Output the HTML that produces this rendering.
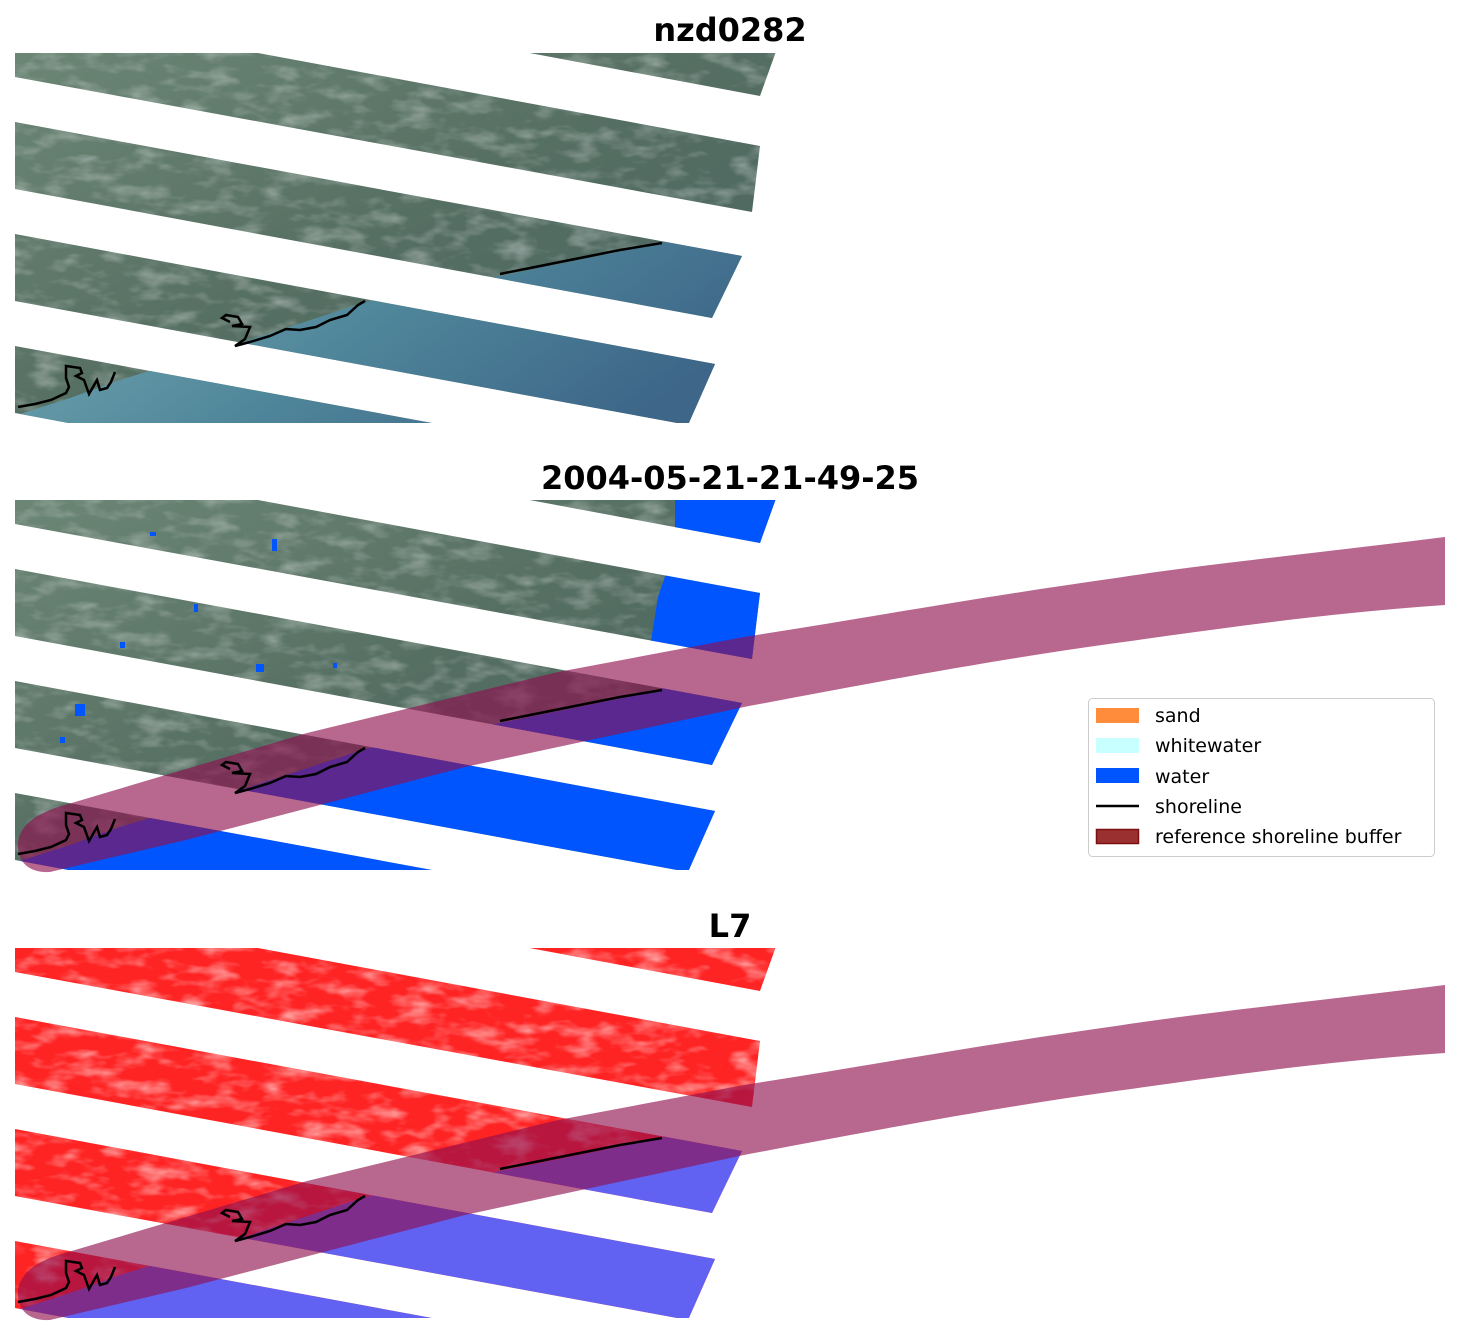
<!DOCTYPE html>
<html><head><meta charset="utf-8"><style>
html,body{margin:0;padding:0;background:#fff;}
svg{display:block;}
text{font-family:"DejaVu Sans","Liberation Sans",sans-serif;}
</style></head><body>
<svg width="1459" height="1337" viewBox="0 0 1459 1337" xmlns="http://www.w3.org/2000/svg">
<defs>
  <clipPath id="strips">
    <polygon points="15,-110 783,32 760,96 15,-43"/>
    <polygon points="15,8 760,146 752,212 15,77"/>
    <polygon points="15,122 742,256 712,318 15,189"/>
    <polygon points="15,234 715,364 688,425 15,301"/>
    <polygon points="15,346 800,491 800,560 15,413"/>
  </clipPath>
  <clipPath id="frame"><rect x="15" y="53" width="770" height="370"/></clipPath>
  <linearGradient id="land" x1="0" y1="0" x2="1" y2="1">
    <stop offset="0" stop-color="#6f8a78"/>
    <stop offset="0.5" stop-color="#566f63"/>
    <stop offset="1" stop-color="#45625f"/>
  </linearGradient>
  <linearGradient id="sea" x1="0" y1="0" x2="1" y2="0.4">
    <stop offset="0" stop-color="#7ab0b4"/>
    <stop offset="0.6" stop-color="#4e8499"/>
    <stop offset="1" stop-color="#3d6688"/>
  </linearGradient>
  <filter id="noise" x="0" y="0" width="1" height="1">
    <feTurbulence type="fractalNoise" baseFrequency="0.03 0.07" numOctaves="3" seed="3" result="t"/>
    <feColorMatrix in="t" type="matrix" values="0 0 0 0 1  0 0 0 0 1  0 0 0 0 1  2.2 0 0 0 -1.0" result="w"/>
    <feComposite in="w" in2="SourceGraphic" operator="in"/>
  </filter>
  <g id="shore">
    <polyline points="500,274 530,268 560,262 590,256 620,250 662,243" fill="none" stroke="#000" stroke-width="2.5"/>
    <polyline points="230,322 222,318 226,315 238,317 242,324 232,326 250,327 245,339 235,346 250,342 270,336 286,329 300,330 316,327 330,320 347,315 358,305 365,301" fill="none" stroke="#000" stroke-width="2.5"/>
    <polyline points="18,407 35,404 51,400 66,393 69,387 66,378 66,366 80,368 82,373 76,376 84,380 89,394 97,380 100,390 107,388 111,382 115,372" fill="none" stroke="#000" stroke-width="2.5"/>
  </g>
  <path id="waterpoly" d="M0,440 L0,420 L20,414 L70,398 L120,380 L250,340 L365,302 L500,276 L662,243 L680,228 L800,205 L800,440 Z"/>
  <path id="waterextra" d="M662,243 L650,200 L658,150 L675,100 L675,0 L800,0 L800,240 Z"/>
  <path id="band" d="M1445,90 C1300,108 1200,118 1116,131 C980,150 860,172 744,190 L558,225 L307,286 L65,358 C35,366 18,380 18,398 C18,418 32,426 50,425 L186,393 L465,320 L744,260 C880,234 1000,212 1116,196 C1230,180 1330,166 1445,158 Z"/>
</defs>

<text x="730" y="41" font-size="32" font-weight="bold" text-anchor="middle">nzd0282</text>
<text x="730" y="489" font-size="32" font-weight="bold" text-anchor="middle">2004-05-21-21-49-25</text>
<text x="730" y="937" font-size="32" font-weight="bold" text-anchor="middle">L7</text>

<g>
  <g clip-path="url(#frame)"><g clip-path="url(#strips)">
    <rect x="0" y="0" width="800" height="440" fill="url(#land)"/>
    <rect x="0" y="0" width="800" height="440" fill="#2a4440" filter="url(#noise)" opacity="0.35"/>
    <use href="#waterpoly" fill="url(#sea)"/>
  </g></g>
  <use href="#shore"/>
</g>

<g transform="translate(0,447)">
  <g clip-path="url(#frame)"><g clip-path="url(#strips)">
    <rect x="0" y="0" width="800" height="440" fill="url(#land)"/>
    <rect x="0" y="0" width="800" height="440" fill="#2a4440" filter="url(#noise)" opacity="0.35"/>
    <use href="#waterpoly" fill="#0055ff"/>
    <use href="#waterextra" fill="#0055ff"/>
    <g fill="#0055ff">
      <rect x="150" y="85" width="6" height="4"/><rect x="272" y="92" width="5" height="12"/>
      <rect x="120" y="195" width="5" height="6"/><rect x="256" y="217" width="8" height="8"/>
      <rect x="75" y="257" width="10" height="12"/><rect x="60" y="290" width="5" height="6"/>
      <rect x="194" y="157" width="4" height="8"/><rect x="333" y="216" width="4" height="5"/>
    </g>
  </g></g>
  <use href="#band" fill="rgb(143,14,78)" fill-opacity="0.63"/>
  <use href="#shore"/>
</g>

<g transform="translate(0,895)">
  <g clip-path="url(#frame)"><g clip-path="url(#strips)">
    <rect x="0" y="0" width="800" height="440" fill="#ff2424"/>
    <rect x="0" y="0" width="800" height="440" fill="#ffffff" filter="url(#noise)" opacity="0.6"/>
    <use href="#waterpoly" fill="#6262f2"/>
  </g></g>
  <use href="#band" fill="rgb(143,14,78)" fill-opacity="0.63"/>
  <use href="#shore"/>
</g>

<rect x="1088.5" y="698.5" width="346" height="158" rx="4" fill="#fff" stroke="#cccccc" stroke-width="1"/>
<rect x="1096" y="708" width="43" height="15" fill="#ff8c3a"/>
<rect x="1096" y="738" width="43" height="15" fill="#c8ffff"/>
<rect x="1096" y="768" width="43" height="15" fill="#0055ff"/>
<line x1="1096" y1="806" x2="1139" y2="806" stroke="#000" stroke-width="2.5"/>
<rect x="1096.5" y="829.5" width="42" height="14" fill="#9a3030" stroke="#7a1010" stroke-width="1.5"/>
<g font-size="19" fill="#000">
  <text x="1155" y="722">sand</text>
  <text x="1155" y="752">whitewater</text>
  <text x="1155" y="783">water</text>
  <text x="1155" y="813">shoreline</text>
  <text x="1155" y="843">reference shoreline buffer</text>
</g>
</svg>
</body></html>
